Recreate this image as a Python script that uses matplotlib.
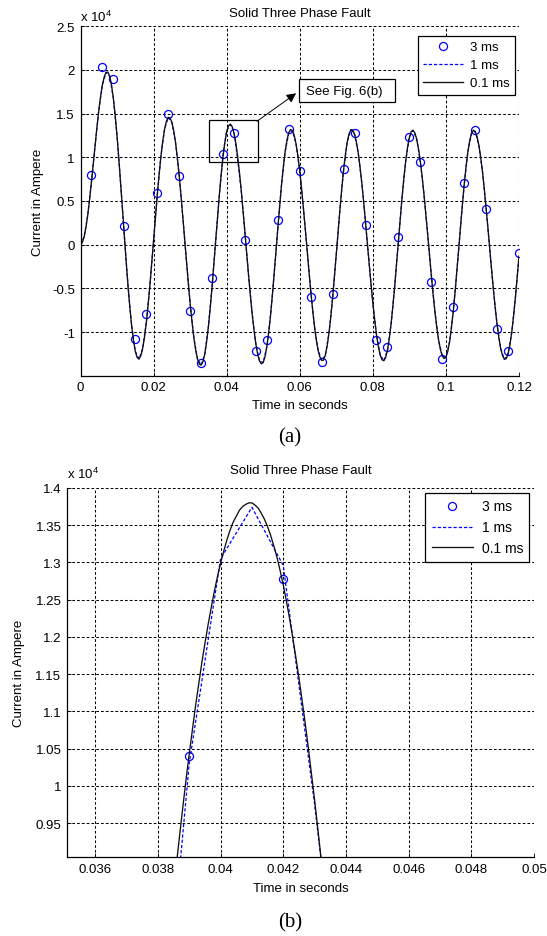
import numpy as np
import matplotlib.pyplot as plt
from matplotlib.patches import Rectangle
from matplotlib.ticker import FuncFormatter

plt.rcParams['font.family'] = ['Liberation Sans', 'DejaVu Sans']
plt.rcParams['font.size'] = 9.5
plt.rcParams['mathtext.default'] = 'regular'

# current values are in units of 1e4 A (axis shows "x 10^4")

# 3 ms step: samples at 3, 6, ... 120 ms
t_3ms = np.arange(1, 41) * 0.003
i_3ms = [0.80, 2.03, 1.90, 0.21, -1.08, -0.79, 0.59, 1.50, 0.78, -0.76,
         -1.35, -0.38, 1.04, 1.278, 0.05, -1.22, -1.09, 0.28, 1.32, 0.84,
         -0.60, -1.34, -0.56, 0.86, 1.28, 0.23, -1.09, -1.17, 0.09, 1.23,
         0.95, -0.43, -1.31, -0.71, 0.70, 1.31, 0.41, -0.96, -1.22, -0.10]

# 1 ms step: 0 ... 120 ms
t_1ms = np.arange(121) * 0.001
i_1ms = [0.000, 0.090, 0.344, 0.717, 1.139, 1.534, 1.830, 1.972, 1.926, 1.672,
         1.243, 0.694, 0.095, -0.470, -0.928, -1.223, -1.309, -1.191, -0.896, -0.462,
         0.049, 0.563, 1.007, 1.320, 1.456, 1.400, 1.172, 0.794, 0.321, -0.190,
         -0.670, -1.059, -1.306, -1.379, -1.254, -0.940, -0.483, 0.046, 0.568, 1.030,
         1.305, 1.374, 1.296, 0.975, 0.616, 0.139, -0.355, -0.799, -1.141, -1.332,
         -1.349, -1.167, -0.812, -0.336, 0.187, 0.678, 1.064, 1.282, 1.305, 1.150,
         0.843, 0.422, -0.054, -0.523, -0.926, -1.205, -1.326, -1.265, -1.012, -0.607,
         -0.108, 0.404, 0.855, 1.176, 1.316, 1.264, 1.051, 0.699, 0.257, -0.220,
         -0.668, -1.031, -1.261, -1.329, -1.209, -0.906, -0.467, 0.041, 0.543, 0.959,
         1.228, 1.309, 1.208, 0.953, 0.574, 0.121, -0.347, -0.770, -1.093, -1.275,
         -1.289, -1.113, -0.766, -0.302, 0.206, 0.685, 1.060, 1.273, 1.296, 1.142,
         0.838, 0.420, -0.051, -0.516, -0.915, -1.192, -1.311, -1.252, -1.008, -0.614,
         -0.131]

t_01ms = np.arange(241) * 0.0005
i_01ms = [0.000, 0.023, 0.090, 0.199, 0.344, 0.520, 0.717, 0.926, 1.139, 1.344,
          1.534, 1.697, 1.830, 1.922, 1.972, 1.975, 1.926, 1.825, 1.672, 1.478,
          1.243, 0.978, 0.694, 0.396, 0.095, -0.195, -0.470, -0.718, -0.928, -1.099,
          -1.223, -1.292, -1.309, -1.274, -1.191, -1.063, -0.896, -0.692, -0.462, -0.210,
          0.049, 0.310, 0.563, 0.798, 1.007, 1.184, 1.320, 1.412, 1.456, 1.452,
          1.400, 1.307, 1.172, 0.997, 0.794, 0.565, 0.321, 0.064, -0.190, -0.439,
          -0.670, -0.879, -1.059, -1.202, -1.306, -1.366, -1.379, -1.342, -1.254, -1.118,
          -0.940, -0.726, -0.483, -0.223, 0.046, 0.313, 0.568, 0.803, 1.006, 1.170,
          1.290, 1.361, 1.380, 1.351, 1.278, 1.163, 1.011, 0.826, 0.616, 0.384,
          0.139, -0.109, -0.355, -0.585, -0.799, -0.986, -1.141, -1.258, -1.332, -1.364,
          -1.349, -1.282, -1.167, -1.008, -0.812, -0.585, -0.336, -0.075, 0.187, 0.442,
          0.678, 0.889, 1.064, 1.197, 1.282, 1.319, 1.305, 1.250, 1.150, 1.013,
          0.843, 0.643, 0.422, 0.188, -0.054, -0.294, -0.523, -0.736, -0.926, -1.084,
          -1.205, -1.286, -1.326, -1.321, -1.265, -1.162, -1.012, -0.825, -0.607, -0.364,
          -0.108, 0.151, 0.404, 0.643, 0.855, 1.035, 1.176, 1.270, 1.316, 1.312,
          1.264, 1.177, 1.051, 0.888, 0.699, 0.485, 0.257, 0.018, -0.220, -0.452,
          -0.668, -0.862, -1.031, -1.164, -1.261, -1.317, -1.329, -1.293, -1.209, -1.078,
          -0.906, -0.699, -0.467, -0.216, 0.041, 0.298, 0.543, 0.766, 0.959, 1.116,
          1.228, 1.294, 1.309, 1.280, 1.208, 1.098, 0.953, 0.775, 0.574, 0.352,
          0.121, -0.116, -0.347, -0.569, -0.770, -0.948, -1.093, -1.203, -1.275, -1.304,
          -1.289, -1.224, -1.113, -0.957, -0.766, -0.545, -0.302, -0.049, 0.206, 0.455,
          0.685, 0.890, 1.060, 1.190, 1.273, 1.309, 1.296, 1.240, 1.142, 1.006,
          0.838, 0.639, 0.420, 0.189, -0.051, -0.289, -0.516, -0.727, -0.915, -1.071,
          -1.192, -1.272, -1.311, -1.306, -1.252, -1.151, -1.008, -0.827, -0.614, -0.379,
          -0.131]

# 0.1 ms step around the third peak (38.5 ... 43.5 ms), for Fig. (b)
t_01ms_zoom = 0.0385 + np.arange(51) * 0.0001
i_01ms_zoom = [0.859, 0.898, 0.936, 0.973, 1.009, 1.043, 1.075, 1.107, 1.136, 1.165,
               1.191, 1.216, 1.239, 1.261, 1.281, 1.299, 1.315, 1.330, 1.343, 1.354,
               1.362, 1.370, 1.375, 1.378, 1.380, 1.380, 1.377, 1.373, 1.366, 1.358,
               1.348, 1.336, 1.322, 1.307, 1.289, 1.270, 1.248, 1.225, 1.200, 1.173,
               1.145, 1.115, 1.084, 1.051, 1.016, 0.981, 0.943, 0.905, 0.865, 0.823,
               0.781]

labels = ['3 ms', '1 ms', '0.1 ms']
title = 'Solid Three Phase Fault'

W, H = 547, 937
fig = plt.figure(figsize=(W / 100, H / 100), dpi=100)


def px_axes(l, t, r, b):
    return fig.add_axes([l / W, 1 - b / H, (r - l) / W, (b - t) / H])


def style(ax):
    for s in ['top', 'right']:
        ax.spines[s].set_visible(False)
    for s in ['left', 'bottom']:
        ax.spines[s].set_linewidth(0.9)
    ax.grid(True, color='k', linestyle=(0, (2.6, 2.0)), linewidth=0.75)
    ax.set_axisbelow(True)
    ax.tick_params(direction='in', length=3, width=0.6, pad=4, labelsize=9.5)
    fmt = FuncFormatter(lambda v, p: '%g' % v)
    ax.xaxis.set_major_formatter(fmt)
    ax.yaxis.set_major_formatter(fmt)


def draw(ax, t_fine, i_fine):
    h1, = ax.plot(t_3ms, i_3ms, 'o', mfc='none', mec='b', ms=5.8, mew=0.9)
    h2, = ax.plot(t_1ms, i_1ms, color='b', ls=(0, (2.6, 1.6)), lw=0.9)
    h3, = ax.plot(t_fine, i_fine, color='#111111', lw=0.95)
    return [h1, h2, h3]


# ---- (a) full record
ax1 = px_axes(80.5, 27.2, 519, 376.7)
style(ax1)
hs = draw(ax1, t_01ms, i_01ms)
ax1.set_xlim(0, 0.12)
ax1.set_ylim(-1.5, 2.5)
ax1.set_xticks(np.arange(0, 0.1201, 0.02))
ax1.set_yticks(np.arange(-1, 2.51, 0.5))
ax1.set_xlabel('Time in seconds', va='center')
ax1.xaxis.set_label_coords(0.5, (376.7 - 406) / 349.5)
ax1.set_ylabel('Current in Ampere', va='center')
ax1.yaxis.set_label_coords((38 - 80.5) / 438.5, 0.5)
leg = ax1.legend(hs, labels, loc='upper right', bbox_to_anchor=(0.992, 0.973),
                 fancybox=False, edgecolor='k', framealpha=1, borderaxespad=0,
                 handlelength=3.0, handletextpad=0.6, borderpad=0.4,
                 labelspacing=0.45, fontsize=9.5)
leg.get_frame().set_linewidth(0.9)

# zoom box, arrow and note
ax1.add_patch(Rectangle((0.0351, 0.943), 0.0134, 0.487, fill=False, ec='k', lw=0.9))
ax1.annotate('', xy=(0.0590, 1.732), xytext=(0.0483, 1.412),
             arrowprops=dict(arrowstyle='-|>', color='k', lw=0.7,
                             shrinkA=0, shrinkB=0, mutation_scale=14))
ax1.add_patch(Rectangle((0.0598, 1.633), 0.0264, 0.263, fc='white', ec='k',
                        lw=0.9, zorder=4))
ax1.text(0.0616, 1.764, 'See Fig. 6(b)', va='center', zorder=5)

fig.text(299.7 / W, 1 - 14 / H, title, ha='center', va='center')
fig.text(80.5 / W, 1 - 17 / H, r'x 10$^{4}$', ha='left', va='center')
fig.text(290 / W, 1 - 438 / H, '(a)', ha='center', va='center',
         family='Liberation Serif', fontsize=15)

# ---- (b) zoom on the third peak
ax2 = px_axes(67, 489, 534, 858.3)
style(ax2)
hs = draw(ax2, t_01ms_zoom, i_01ms_zoom)
ax2.set_xlim(0.0351, 0.05)
ax2.set_ylim(0.904, 1.4)
ax2.set_xticks(np.arange(0.036, 0.05001, 0.002))
ax2.set_yticks(np.arange(0.95, 1.4001, 0.05))
ax2.set_xlabel('Time in seconds', va='center')
ax2.xaxis.set_label_coords(0.5, (858.3 - 889.3) / 369.3)
ax2.set_ylabel('Current in Ampere', va='center')
ax2.yaxis.set_label_coords((19 - 67) / 467, 0.5)
leg = ax2.legend(hs, labels, loc='upper right', bbox_to_anchor=(0.990, 0.986),
                 fancybox=False, edgecolor='k', framealpha=1, borderaxespad=0,
                 handlelength=3.0, handletextpad=0.6, borderpad=0.45,
                 labelspacing=0.5, fontsize=10)
leg.get_frame().set_linewidth(0.9)

fig.text(300.5 / W, 1 - 470.7 / H, title, ha='center', va='center')
fig.text(67 / W, 1 - 474 / H, r'x 10$^{4}$', ha='left', va='center')
fig.text(290 / W, 1 - 923 / H, '(b)', ha='center', va='center',
         family='Liberation Serif', fontsize=15)

fig.savefig('out.png', dpi=100)
